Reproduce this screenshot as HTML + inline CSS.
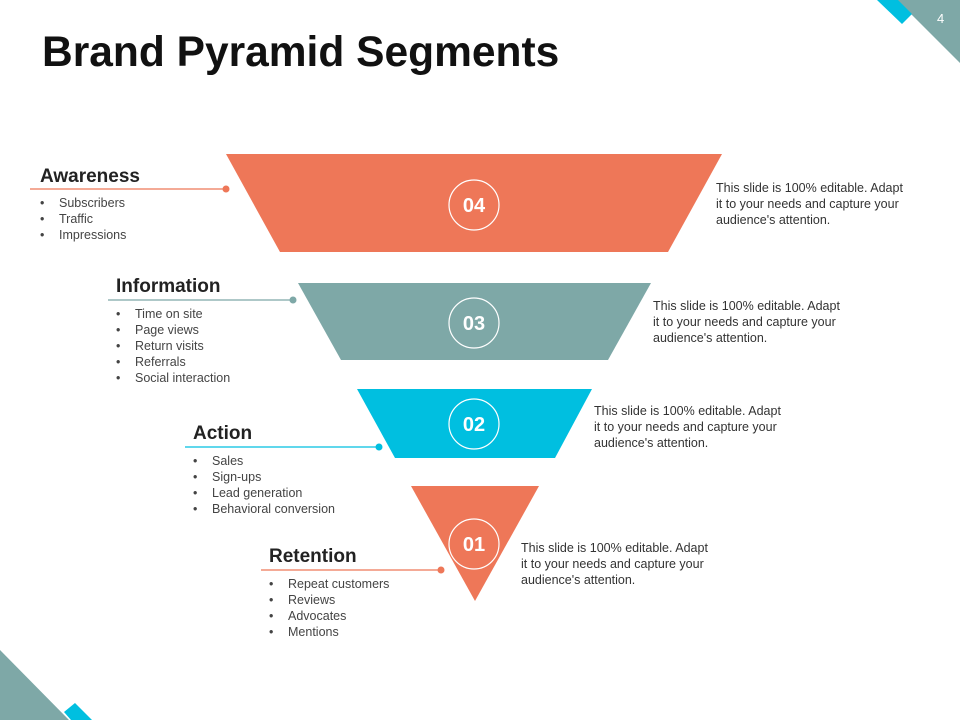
<!DOCTYPE html>
<html><head><meta charset="utf-8"><style>
body{margin:0;width:960px;height:720px;overflow:hidden;background:#fff;font-family:"Liberation Sans",sans-serif;}
</style></head><body>
<svg width="960" height="720" viewBox="0 0 960 720" xmlns="http://www.w3.org/2000/svg" font-family="Liberation Sans, sans-serif">
<polygon points="897,0 960,0 960,63" fill="#7ea8a7"/>
<polygon points="877,0 898,0 912,14 902,24" fill="#00bfe0"/>
<text x="937" y="23" font-size="13" fill="#fff">4</text>
<polygon points="0,650 0,720 69,720" fill="#7ea8a7"/>
<polygon points="64,712 75,703 92,720 71,720" fill="#00bfe0"/>
<text x="42" y="66" font-size="42.5" font-weight="bold" fill="#111">Brand Pyramid Segments</text>

<polygon points="226,154 722,154 668,252 280,252" fill="#ee7758"/>
<polygon points="298,283 651,283 608,360 341,360" fill="#7ea8a7"/>
<polygon points="357,389 592,389 555,458 395,458" fill="#00bfe0"/>
<polygon points="411,486 539,486 475,601" fill="#ee7758"/>

<g fill="none" stroke="#fff" stroke-width="1.2">
<circle cx="474" cy="205" r="25"/><circle cx="474" cy="323" r="25"/>
<circle cx="474" cy="424" r="25"/><circle cx="474" cy="544" r="25"/>
</g>
<g fill="#fff" font-size="20" font-weight="bold" text-anchor="middle">
<text x="474" y="212">04</text><text x="474" y="330">03</text>
<text x="474" y="431">02</text><text x="474" y="551">01</text>
</g>

<g stroke-width="1.3">
<line x1="30" y1="189" x2="226" y2="189" stroke="#ee7758"/><circle cx="226" cy="189" r="3.5" fill="#ee7758"/>
<line x1="108" y1="300" x2="293" y2="300" stroke="#7ea8a7"/><circle cx="293" cy="300" r="3.5" fill="#7ea8a7"/>
<line x1="185" y1="447" x2="379" y2="447" stroke="#00bfe0"/><circle cx="379" cy="447" r="3.5" fill="#00bfe0"/>
<line x1="261" y1="570" x2="441" y2="570" stroke="#ee7758"/><circle cx="441" cy="570" r="3.5" fill="#ee7758"/>
</g>

<g font-size="19" font-weight="bold" fill="#222">
<text x="40" y="182">Awareness</text>
<text x="116" y="292">Information</text>
<text x="193" y="439">Action</text>
<text x="269" y="562">Retention</text>
</g>

<g font-size="12.5" fill="#444">
<text x="40" y="207">•</text><text x="59" y="207">Subscribers</text>
<text x="40" y="223">•</text><text x="59" y="223">Traffic</text>
<text x="40" y="239">•</text><text x="59" y="239">Impressions</text>

<text x="116" y="318">•</text><text x="135" y="318">Time on site</text>
<text x="116" y="334">•</text><text x="135" y="334">Page views</text>
<text x="116" y="350">•</text><text x="135" y="350">Return visits</text>
<text x="116" y="366">•</text><text x="135" y="366">Referrals</text>
<text x="116" y="382">•</text><text x="135" y="382">Social interaction</text>

<text x="193" y="465">•</text><text x="212" y="465">Sales</text>
<text x="193" y="481">•</text><text x="212" y="481">Sign-ups</text>
<text x="193" y="497">•</text><text x="212" y="497">Lead generation</text>
<text x="193" y="513">•</text><text x="212" y="513">Behavioral conversion</text>

<text x="269" y="588">•</text><text x="288" y="588">Repeat customers</text>
<text x="269" y="604">•</text><text x="288" y="604">Reviews</text>
<text x="269" y="620">•</text><text x="288" y="620">Advocates</text>
<text x="269" y="636">•</text><text x="288" y="636">Mentions</text>
</g>

<g font-size="12.5" fill="#333">
<text x="716" y="192">This slide is 100% editable. Adapt</text>
<text x="716" y="208">it to your needs and capture your</text>
<text x="716" y="224">audience's attention.</text>
<text x="653" y="310">This slide is 100% editable. Adapt</text>
<text x="653" y="326">it to your needs and capture your</text>
<text x="653" y="342">audience's attention.</text>
<text x="594" y="415">This slide is 100% editable. Adapt</text>
<text x="594" y="431">it to your needs and capture your</text>
<text x="594" y="447">audience's attention.</text>
<text x="521" y="552">This slide is 100% editable. Adapt</text>
<text x="521" y="568">it to your needs and capture your</text>
<text x="521" y="584">audience's attention.</text>
</g>
</svg>
</body></html>
